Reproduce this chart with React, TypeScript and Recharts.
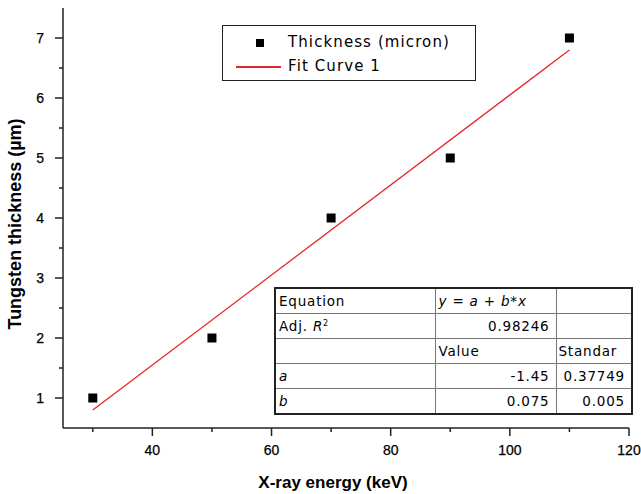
import React from "react";
import {
  ComposedChart,
  Scatter,
  Line,
  XAxis,
  YAxis,
  Legend,
} from "recharts";

const energies = [30, 50, 70, 90, 110];
const thickness = [1, 2, 4, 5, 7];
const fitEnergies = [30, 110];
const fitThickness = [0.8, 6.8];
const xTicks = [30, 40, 50, 60, 70, 80, 90, 100, 110, 120];
const yTicks = [1, 1.5, 2, 2.5, 3, 3.5, 4, 4.5, 5, 5.5, 6, 6.5, 7];

const points = energies.map((x, i) => ({ x, y: thickness[i] }));
const fit = fitEnergies.map((x, i) => ({ x, y: fitThickness[i] }));

const AXIS = "#222";
const RED = "#e4262b";
const tickFont = "'Liberation Sans', Arial, sans-serif";
const boxFont = "'DejaVu Sans', Verdana, sans-serif";

const BottomTick = (props: any) => {
  const { x, y, payload } = props;
  const major = payload.value % 20 === 0;
  return (
    <g>
      <line x1={x} x2={x} y1={y} y2={y + (major ? 8 : 4)} stroke={AXIS} strokeWidth={1.5} />
      {major && (
        <text x={x} y={y + 27} textAnchor="middle" fontSize={14} fontFamily={tickFont} fill="#000" stroke="#000" strokeWidth={0.25}>
          {payload.value}
        </text>
      )}
    </g>
  );
};

const TopTick = (props: any) => {
  const { x, y, payload } = props;
  const major = payload.value % 20 === 0;
  return <line x1={x} x2={x} y1={y} y2={y + (major ? 6 : 4)} stroke={AXIS} strokeWidth={1.5} />;
};

const LeftTick = (props: any) => {
  const { x, y, payload } = props;
  const major = Number.isInteger(payload.value);
  return (
    <g>
      <line x1={x - (major ? 8 : 4)} x2={x} y1={y} y2={y} stroke={AXIS} strokeWidth={1.5} />
      {major && (
        <text x={x - 19} y={y + 5} textAnchor="end" fontSize={14} fontFamily={tickFont} fill="#000" stroke="#000" strokeWidth={0.25}>
          {payload.value}
        </text>
      )}
    </g>
  );
};

const RightTick = (props: any) => {
  const { x, y, payload } = props;
  const major = Number.isInteger(payload.value);
  return <line x1={x - (major ? 6 : 4)} x2={x} y1={y} y2={y} stroke={AXIS} strokeWidth={1.5} />;
};

const SquareDot = (props: any) => {
  const { cx, cy } = props;
  return <rect x={cx - 4.5} y={cy - 4.5} width={9} height={9} fill="#000" />;
};

const LegendBox = () => (
  <div
    style={{
      width: 252,
      height: 54,
      border: "1.5px solid #222",
      background: "#fff",
      fontFamily: boxFont,
      fontSize: 15,
      letterSpacing: 1.1,
      color: "#000",
      position: "relative",
    }}
  >
    <div style={{ position: "absolute", left: 33, top: 13, width: 8, height: 8, background: "#000" }} />
    <div style={{ position: "absolute", left: 65, top: 7 }}>Thickness (micron)</div>
    <div style={{ position: "absolute", left: 13, top: 40, width: 45, height: 1.5, background: RED }} />
    <div style={{ position: "absolute", left: 65, top: 31 }}>Fit Curve 1</div>
  </div>
);

const cell: React.CSSProperties = {
  borderRight: "1px solid #777",
  borderBottom: "1px solid #777",
  height: 24,
  padding: "0 6px 0 3px",
  whiteSpace: "nowrap",
  overflow: "hidden",
};

const FitTable = () => (
  <table
    style={{
      position: "absolute",
      left: 274,
      top: 287,
      width: 357,
      borderCollapse: "collapse",
      tableLayout: "fixed",
      border: "2px solid #222",
      fontFamily: boxFont,
      fontSize: 13.5,
      letterSpacing: 0.8,
      color: "#000",
      background: "#fff",
    }}
  >
    <colgroup>
      <col style={{ width: 160 }} />
      <col style={{ width: 121 }} />
      <col style={{ width: 76 }} />
    </colgroup>
    <tbody>
      <tr>
        <td style={cell}>Equation</td>
        <td style={cell}><i>y</i> = <i>a</i> + <i>b</i>*<i>x</i></td>
        <td style={cell}></td>
      </tr>
      <tr>
        <td style={cell}>Adj. <i>R</i><sup style={{ fontSize: 8 }}>2</sup></td>
        <td style={{ ...cell, textAlign: "right" }}>0.98246</td>
        <td style={cell}></td>
      </tr>
      <tr>
        <td style={cell}></td>
        <td style={cell}>Value</td>
        <td style={{ ...cell, padding: "0 0 0 2px" }}>Standar</td>
      </tr>
      <tr>
        <td style={cell}><i>a</i></td>
        <td style={{ ...cell, textAlign: "right" }}>-1.45</td>
        <td style={{ ...cell, textAlign: "right" }}>0.37749</td>
      </tr>
      <tr>
        <td style={cell}><i>b</i></td>
        <td style={{ ...cell, textAlign: "right" }}>0.075</td>
        <td style={{ ...cell, textAlign: "right" }}>0.005</td>
      </tr>
    </tbody>
  </table>
);

export default function App() {
  return (
    <div style={{ position: "absolute", left: 0, top: 0, width: 641, height: 494, background: "#fff" }}>
      <ComposedChart width={641} height={494} margin={{ top: 8, right: 12, bottom: 0, left: 0 }}>
        <XAxis
          xAxisId="b"
          type="number"
          dataKey="x"
          domain={[25, 120]}
          ticks={xTicks}
          allowDataOverflow
          height={66}
          tickSize={0}
          tickMargin={0}
          tickLine={false}
          tick={BottomTick}
          axisLine={{ stroke: AXIS, strokeWidth: 1.5 }}
          label={{
            value: "X-ray energy (keV)",
            position: "insideBottom",
            offset: 6,
            dx: -13,
            style: { fontFamily: tickFont, fontSize: 17, fontWeight: "bold", fill: "#000" },
          }}
        />
        <XAxis
          xAxisId="t"
          orientation="top"
          type="number"
          domain={[25, 120]}
          ticks={xTicks}
          allowDataOverflow
          height={0}
          tickSize={0}
          tickMargin={0}
          tickLine={false}
          tick={TopTick}
          axisLine={{ stroke: AXIS, strokeWidth: 1.5 }}
        />
        <YAxis
          yAxisId="l"
          type="number"
          dataKey="y"
          domain={[0.5, 7.5]}
          ticks={yTicks}
          allowDataOverflow
          width={63}
          tickSize={0}
          tickMargin={0}
          tickLine={false}
          tick={LeftTick}
          axisLine={{ stroke: AXIS, strokeWidth: 1.5 }}
          label={{
            value: "Tungsten thickness (µm)",
            angle: -90,
            position: "insideLeft",
            offset: 15,
            dy: 6,
            style: { textAnchor: "middle", fontFamily: tickFont, fontSize: 18, fontWeight: "bold", fill: "#000" },
          }}
        />
        <YAxis
          yAxisId="r"
          orientation="right"
          type="number"
          domain={[0.5, 7.5]}
          ticks={yTicks}
          allowDataOverflow
          width={0}
          tickSize={0}
          tickMargin={0}
          tickLine={false}
          tick={RightTick}
          axisLine={{ stroke: AXIS, strokeWidth: 1.5 }}
        />
        <Legend
          layout="horizontal"
          verticalAlign="middle"
          align="center"
          wrapperStyle={{ left: 222, top: 25, width: 254, height: 56 }}
          content={() => <LegendBox />}
        />
        <Line
          xAxisId="b"
          yAxisId="l"
          data={fit}
          dataKey="y"
          type="linear"
          stroke={RED}
          strokeWidth={1.3}
          dot={false}
          isAnimationActive={false}
        />
        <Scatter
          xAxisId="b"
          yAxisId="l"
          data={points}
          dataKey="y"
          fill="#000"
          shape={SquareDot}
          isAnimationActive={false}
        />
      </ComposedChart>
      <FitTable />
    </div>
  );
}
